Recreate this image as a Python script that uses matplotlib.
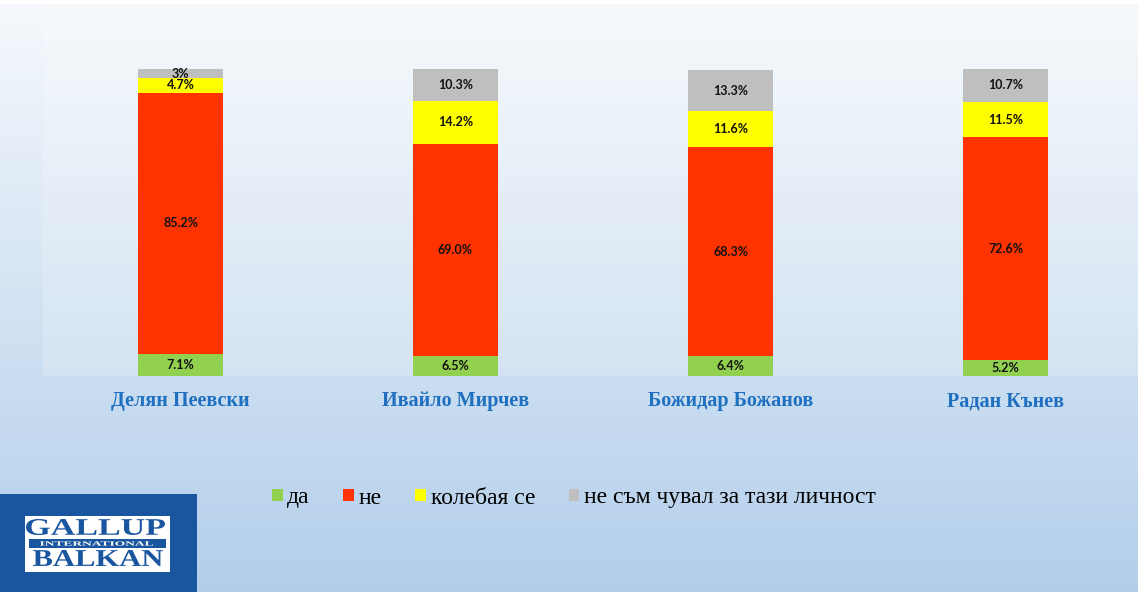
import numpy as np
import matplotlib
matplotlib.use("Agg")
import matplotlib.pyplot as plt
from matplotlib.patches import Rectangle, PathPatch
from matplotlib.textpath import TextPath
from matplotlib.font_manager import FontProperties
from matplotlib.transforms import Affine2D

categories = ["Делян Пеевски", "Ивайло Мирчев", "Божидар Божанов", "Радан Кънев"]
series_names = ["да", "не", "колебая се", "не съм чувал за тази личност"]
da = [7.1, 6.5, 6.4, 5.2]
ne = [85.2, 69.0, 68.3, 72.6]
kolebaya = [4.7, 14.2, 11.6, 11.5]
ne_sam_chuval = [3, 10.3, 13.3, 10.7]
label_texts = [
    ["7.1%", "6.5%", "6.4%", "5.2%"],
    ["85.2%", "69.0%", "68.3%", "72.6%"],
    ["4.7%", "14.2%", "11.6%", "11.5%"],
    ["3%", "10.3%", "13.3%", "10.7%"],
]
colors = ["#92d050", "#ff3300", "#ffff00", "#bfbfbf"]

W, H = 1138, 592
fig = plt.figure(figsize=(W / 100, H / 100), dpi=100)

# background gradient
bg = fig.add_axes([0, 0, 1, 1], zorder=-10)
grad = np.linspace(0, 1, 256).reshape(-1, 1)
top = np.array([0.965, 0.975, 0.99])
bot = np.array([0.70, 0.81, 0.92])
img = top + (bot - top) * grad[..., None]
bg.imshow(img, aspect="auto", extent=[0, 1, 0, 1], origin="upper")
bg.add_patch(Rectangle((0, 1 - 4 / H), 1, 4 / H, color="white", lw=0))
# lighter plot-area panel
bg.add_patch(Rectangle((43 / W, 1 - 376 / H), 1, 376 / H, color="white", alpha=0.18, lw=0))
bg.set_xlim(0, 1)
bg.set_ylim(0, 1)
bg.axis("off")

# plot area
left = 43 / W
bottom = 1 - 376 / H
top_px = 69
height = (376 - top_px) / H
ax = fig.add_axes([left, bottom, 1100 / W, height])
ax.patch.set_alpha(0)
x = np.arange(len(categories))
series = [da, ne, kolebaya, ne_sam_chuval]
base = np.zeros(len(categories))
for i, (vals, c) in enumerate(zip(series, colors)):
    vals = np.array(vals)
    bars = ax.bar(x, vals, bottom=base, width=0.312, color=c, label=series_names[i], zorder=2)
    for j, b in enumerate(bars):
        ax.text(b.get_x() + b.get_width() / 2, base[j] + vals[j] / 2, label_texts[i][j],
                ha="center", va="center", fontsize=9, fontweight="bold",
                family="Lato", color="#111111", zorder=3)
    base = base + vals
ax.set_xlim(-0.5, 3.5)
ax.set_ylim(0, 100)
ax.set_yticks([])
ax.set_xticks(x)
ax.set_xticklabels(categories, fontsize=14.5, fontweight="bold", family="Liberation Serif",
                   color="#1f70c0")
ax.tick_params(axis="x", length=0, pad=11)
for s in ax.spines.values():
    s.set_visible(False)

handles, labels = ax.get_legend_handles_labels()
leg = fig.legend(handles, labels, loc="center", bbox_to_anchor=(574 / W, 1 - 498 / H),
                 ncol=4, frameon=False, prop={"family": "Liberation Serif", "size": 17},
                 handlelength=0.45, handleheight=0.45, handletextpad=0.2, columnspacing=1.42)

# logo
lg = fig.add_axes([0, 0, 197 / W, 98 / H])
lg.set_xlim(0, 197)
lg.set_ylim(0, 98)
lg.axis("off")
logo_blue = "#1a56a0"
lg.add_patch(Rectangle((0, 0), 197, 98, color=logo_blue, lw=0))
lg.add_patch(Rectangle((25, 20), 145, 56, color="white", lw=0))
lg.add_patch(Rectangle((29, 44), 137, 9, color=logo_blue, lw=0))


def fit_text(axis, s, x0, x1, y0, y1, color, weight="bold"):
    fp = FontProperties(family="Liberation Serif", weight=weight)
    tp = TextPath((0, 0), s, size=10, prop=fp)
    ext = tp.get_extents()
    sx = (x1 - x0) / ext.width
    sy = (y1 - y0) / ext.height
    tr = Affine2D().translate(-ext.x0, -ext.y0).scale(sx, sy).translate(x0, y0)
    axis.add_patch(PathPatch(tr.transform_path(tp), color=color, lw=0))


fit_text(lg, "GALLUP", 26, 165, 57, 73, logo_blue)
fit_text(lg, "INTERNATIONAL", 40, 153, 46.3, 50.7, "white")
fit_text(lg, "BALKAN", 33, 163, 26, 42, logo_blue)

fig.savefig("out.png", dpi=100)
